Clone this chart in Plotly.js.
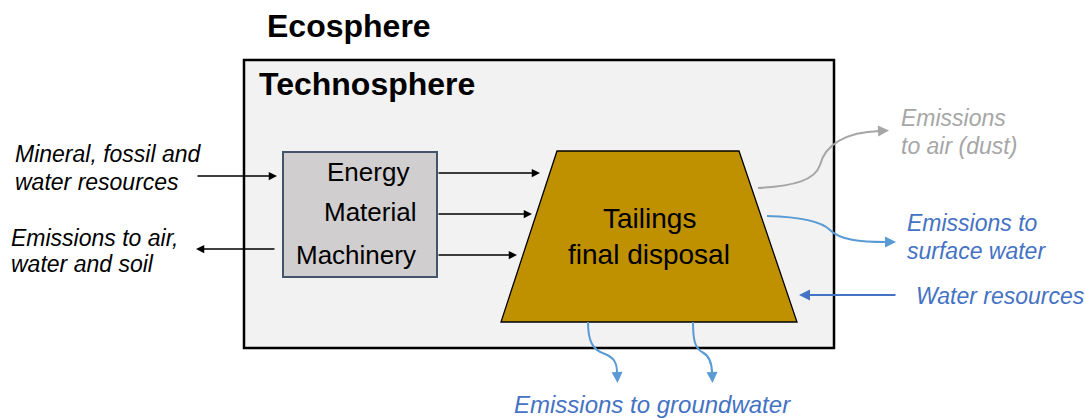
<!DOCTYPE html>
<html><head><meta charset="utf-8">
<script src="https://cdn.plot.ly/plotly-3.0.1.min.js"></script>
<style>html,body{margin:0;padding:0;background:#fff}#chart{width:1085px;height:418px}</style>
</head><body><div id="chart"></div>
<script>
// ---- Diagram content (text) ----
const outerTitle = 'Ecosphere';
const innerTitle = 'Technosphere';
const inputItems = ['Energy', 'Material', 'Machinery'];
const disposalLines = ['Tailings', 'final disposal'];
const resourceLines = ['Mineral, fossil and', 'water resources'];
const emissionLines = ['Emissions to air,', 'water and soil'];
const dustLines = ['Emissions', 'to air (dust)'];
const surfaceLines = ['Emissions to', 'surface water'];
const waterLabel = ['Water resources'];
const groundLabel = ['Emissions to groundwater'];

// ---- Layout geometry (pixel space of the figure) ----
const FONT = 'Liberation Sans, Arial, sans-serif';
const BLACK = '#000000', GREY = '#a6a6a6', BLUE_T = '#4472c4', BLUE_L = '#5b9bd5';

const shapes = [];
const annotations = [];

function rect(x0, y0, x1, y1, fill, line, w) {
  shapes.push({type: 'rect', xref: 'x', yref: 'y', x0, y0, x1, y1, fillcolor: fill, line: {color: line, width: w}, layer: 'below'});
}
function path(d, color, w, fill) {
  shapes.push({type: 'path', xref: 'x', yref: 'y', path: d, line: {color, width: w}, fillcolor: fill || 'rgba(0,0,0,0)', layer: 'below'});
}
function arrow(x0, y0, x1, y1, color, w) {
  annotations.push({x: x1, y: y1, ax: x0, ay: y0, xref: 'x', yref: 'y', axref: 'x', ayref: 'y',
    text: '', showarrow: true, arrowhead: 2, arrowsize: 1.1, arrowwidth: w, arrowcolor: color, standoff: 0, startstandoff: 0});
}
function label(text, x, y, size, color, xanchor, opts) {
  annotations.push(Object.assign({x, y, xref: 'x', yref: 'y', text, showarrow: false,
    xanchor: xanchor, yanchor: 'middle', font: {family: FONT, size, color}}, opts || {}));
}

// Technosphere box
rect(244, 60, 834, 348, '#f2f2f2', BLACK, 2.5);
// inner input box
rect(283, 152, 437, 277, '#d0cece', '#44546a', 2);
// tailings trapezoid
path('M557,151 L739,151 L797,322 L501,322 Z', BLACK, 1.3, '#bf9000');

// titles
label('<b>' + outerTitle + '</b>', 265, 26, 32, BLACK, 'left');
label('<b>' + innerTitle + '</b>', 257, 84, 32, BLACK, 'left');

// input items
const itemX = [368, 370, 356], itemY = [172, 212, 255];
inputItems.forEach((t, i) => label(t, itemX[i], itemY[i], 26, BLACK, 'center'));
const arrowEnd = [540, 532, 517], arrowY = [173, 214, 255];
inputItems.forEach((t, i) => arrow(437, arrowY[i], arrowEnd[i], arrowY[i], BLACK, 1.5));

// tailings text
disposalLines.forEach((t, i) => label(t, 649, 218 + i * 36, 28, BLACK, 'center'));

// left side
resourceLines.forEach((t, i) => label('<i>' + t + '</i>', 13, 154 + i * 28, 23, BLACK, 'left'));
emissionLines.forEach((t, i) => label('<i>' + t + '</i>', 9, 238 + i * 26, 23, BLACK, 'left'));
arrow(196, 176, 277, 176, BLACK, 1.5);
arrow(276, 249, 196, 249, BLACK, 1.5);

// dust (grey)
path('M758,188 C795,186 815,180 820,165 C825,145 845,132 880,131', GREY, 2);
arrow(876, 131, 889, 130.5, GREY, 2);
dustLines.forEach((t, i) => label('<i>' + t + '</i>', 899, 118 + i * 28, 23, GREY, 'left'));

// surface water (blue)
path('M767,216 C805,217 822,222 830,230 C840,240 860,242 886,242', BLUE_L, 2);
arrow(882, 242, 896, 242, BLUE_L, 2);
surfaceLines.forEach((t, i) => label('<i>' + t + '</i>', 905, 223 + i * 28, 23, BLUE_T, 'left'));

// water resources
arrow(897, 295, 799, 295, BLUE_T, 2);
label('<i>' + waterLabel[0] + '</i>', 914, 296, 23, BLUE_T, 'left');

// groundwater
path('M588,322 C588,340 592,350 605,354 C615,358 617,364 617,373', BLUE_L, 2);
arrow(617, 370, 617.5, 383, BLUE_L, 2);
path('M693,322 C693,340 695,348 702,352 C710,356 712,364 712,373', BLUE_L, 2);
arrow(712, 370, 712.5, 383, BLUE_L, 2);
label('<i>' + groundLabel[0] + '</i>', 652, 404, 24, BLUE_T, 'center');

const layout = {
  width: 1085, height: 418,
  margin: {l: 0, r: 0, t: 0, b: 0},
  paper_bgcolor: '#ffffff', plot_bgcolor: '#ffffff',
  xaxis: {range: [0, 1085], visible: false, fixedrange: true},
  yaxis: {range: [418, 0], visible: false, fixedrange: true},
  showlegend: false,
  shapes, annotations
};
Plotly.newPlot('chart', [], layout, {staticPlot: true, displayModeBar: false});
</script></body></html>
